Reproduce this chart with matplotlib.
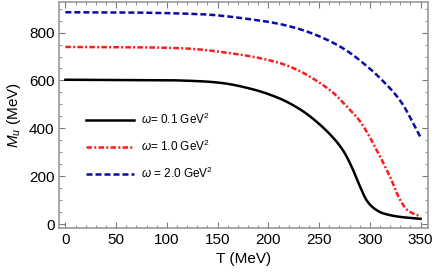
import numpy as np
import matplotlib
matplotlib.use('Agg')
import matplotlib.pyplot as plt
from matplotlib.ticker import MultipleLocator

plt.rcParams.update({'font.family': ['Liberation Sans', 'DejaVu Sans'], 'font.size': 10,
                     'mathtext.fontset': 'custom', 'mathtext.it': 'Liberation Sans:italic',
                     'mathtext.rm': 'Liberation Sans'})

T_w01 = [0, 100, 132, 153, 182, 211, 231, 244, 264, 274, 282, 290, 296, 300, 306, 313, 330, 350]
M_w01 = [603, 601, 597, 590, 566, 525, 480, 440, 360, 305, 240, 160, 105, 82, 60, 45, 30, 22]
T_w10 = [0, 60, 112, 172, 211, 229, 244, 264, 277, 290, 307, 320, 330, 337, 345, 350]
M_w10 = [740, 739, 735, 708, 673, 643, 608, 548, 492, 431, 307, 196, 100, 58, 40, 33]
T_w20 = [0, 60, 132, 192, 211, 228, 244, 264, 277, 297, 310, 330, 350]
M_w20 = [885, 884, 877, 850, 836, 818, 795, 757, 725, 660, 610, 515, 362]


def smooth(t, m):
    # monotone piecewise-cubic through the read points
    t = np.asarray(t, float)
    m = np.asarray(m, float)
    h = np.diff(t)
    d = np.diff(m) / h
    s = np.zeros_like(m)
    for i in range(1, len(m) - 1):
        if d[i-1] * d[i] > 0:
            w1 = 2*h[i] + h[i-1]
            w2 = h[i] + 2*h[i-1]
            s[i] = (w1 + w2) / (w1/d[i-1] + w2/d[i])
    s[0] = d[0]
    s[-1] = d[-1]
    tt = np.linspace(t[0], t[-1], 500)
    out = np.empty_like(tt)
    for k, x in enumerate(tt):
        i = min(np.searchsorted(t, x, side='right') - 1, len(t) - 2)
        u = (x - t[i]) / h[i]
        out[k] = ((2*u**3 - 3*u**2 + 1)*m[i] + (u**3 - 2*u**2 + u)*h[i]*s[i]
                  + (-2*u**3 + 3*u**2)*m[i+1] + (u**3 - u**2)*h[i]*s[i+1])
    return tt, out


fig = plt.figure(figsize=(4.36, 2.78), dpi=100)
ax = fig.add_axes([0.136, 0.181, 0.845, 0.812])

ax.plot(*smooth(T_w01, M_w01), color='black', lw=1.8, label=r'$\omega$= 0.1 GeV$^2$')
ax.plot(*smooth(T_w10, M_w10), color='#ff1a1a', lw=1.8, dashes=(2.2, 0.9, 0.8, 0.9),
        label=r'$\omega$= 1.0 GeV$^2$')
ax.plot(*smooth(T_w20, M_w20), color='#0a0aa8', lw=1.8, dashes=(2.4, 1.2),
        label=r'$\omega$ = 2.0 GeV$^2$')

ax.set_xlim(-6, 357)
ax.set_ylim(-15, 928)
ax.xaxis.set_major_locator(MultipleLocator(50))
ax.xaxis.set_minor_locator(MultipleLocator(10))
ax.yaxis.set_major_locator(MultipleLocator(200))
ax.yaxis.set_minor_locator(MultipleLocator(50))
ax.tick_params(which='both', direction='in', top=True, right=True, color='#777777',
               labelsize=11)
ax.tick_params(which='major', length=4)
ax.tick_params(which='minor', length=2.5)
for sp in ax.spines.values():
    sp.set_color('#999999')
    sp.set_linewidth(1.2)

ax.set_xlabel('T (MeV)', fontsize=11)
ax.set_ylabel(r'$M_u$ (MeV)', fontsize=11)

ax.legend(loc='upper left', bbox_to_anchor=(0.045, 0.56), frameon=False, fontsize=8.5,
          handlelength=4.0, handletextpad=0.6, labelspacing=1.0)

fig.savefig('out.png')
